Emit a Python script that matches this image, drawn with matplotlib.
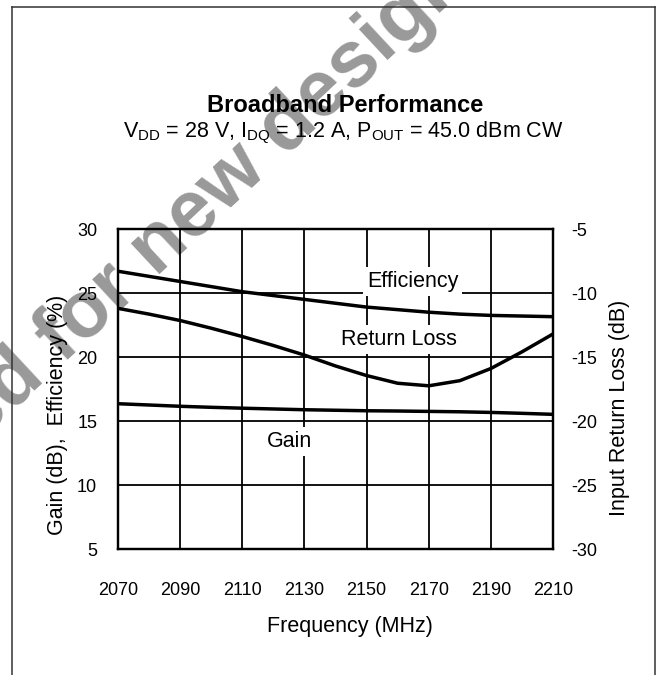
import matplotlib
matplotlib.use('Agg')
import matplotlib.pyplot as plt
from matplotlib.lines import Line2D

plt.rcParams['font.family'] = ['Liberation Sans', 'DejaVu Sans']
plt.rcParams['mathtext.fontset'] = 'custom'
plt.rcParams['mathtext.rm'] = 'Liberation Sans'
plt.rcParams['axes.unicode_minus'] = False

# data
freq = [2070, 2080, 2090, 2100, 2110, 2120, 2130, 2140, 2150, 2160, 2170, 2180, 2190, 2200, 2210]
efficiency = [26.7, 26.3, 25.9, 25.5, 25.1, 24.8, 24.5, 24.2, 23.9, 23.7, 23.5, 23.35, 23.25, 23.2, 23.15]
gain = [16.35, 16.25, 16.15, 16.07, 16.0, 15.94, 15.88, 15.84, 15.8, 15.78, 15.75, 15.72, 15.67, 15.6, 15.52]
return_loss = [-11.2, -11.65, -12.15, -12.75, -13.4, -14.1, -14.85, -15.7, -16.45, -17.05, -17.25, -16.85, -15.9, -14.6, -13.2]

xticks = [2070, 2090, 2110, 2130, 2150, 2170, 2190, 2210]
left_ticks = [5, 10, 15, 20, 25, 30]
right_ticks = [-30, -25, -20, -15, -10, -5]

W, H = 666, 675
fig = plt.figure(figsize=(W / 100, H / 100), dpi=100)

def fx(px):
    return px / W

def fy(py):
    return 1 - py / H

# watermark behind everything
fig.text(fx(21), fy(403), 'Not recommended for new designs', rotation=43,
         rotation_mode='anchor', ha='center', va='baseline', fontsize=57,
         fontweight='bold', color='#999999', zorder=-5)

ax = fig.add_axes([fx(118), fy(549), 435 / W, 320 / H])
ax.set_facecolor('none')
ax2 = ax.twinx()
ax2.set_facecolor('none')

ax.plot(freq, efficiency, color='black', lw=2.5, zorder=3)
ax.plot(freq, gain, color='black', lw=2.5, zorder=3)
ax2.plot(freq, return_loss, color='black', lw=2.5, zorder=3)

ax.set_xlim(2070, 2210)
ax.set_ylim(5, 30)
ax2.set_ylim(-30, -5)
ax.set_xticks(xticks)
ax.set_yticks(left_ticks)
ax2.set_yticks(right_ticks)

ax.grid(True, color='black', lw=1.3)
for a in (ax, ax2):
    for s in a.spines.values():
        s.set_linewidth(1.6)
ax.tick_params(axis='both', length=0, labelsize=13)
ax.tick_params(axis='y', pad=15)
ax.tick_params(axis='x', pad=24)
ax2.tick_params(axis='y', length=0, labelsize=13, pad=13)

fig.text(fx(349.5), fy(632), 'Frequency (MHz)', ha='center', va='baseline', fontsize=15.5)
fig.text(fx(57), fy(415), 'Gain (dB),  Efficiency (%)', ha='center', va='center',
         rotation=90, fontsize=15.5)
fig.text(fx(620), fy(408), 'Input Return Loss (dB)', ha='center', va='center',
         rotation=90, fontsize=15.5)

box = dict(facecolor='white', edgecolor='none', pad=3)
ax.text(2164.8, 25.47, 'Efficiency', ha='center', va='baseline', fontsize=15.5, bbox=box, zorder=4)
ax.text(2160.4, 20.94, 'Return Loss', ha='center', va='baseline', fontsize=15.5, bbox=box, zorder=4)
ax.text(2125.2, 12.99, 'Gain', ha='center', va='baseline', fontsize=15.5, bbox=box, zorder=4)

fig.text(fx(345), fy(112), 'Broadband Performance', ha='center', va='baseline',
         fontsize=17, fontweight='bold')
fig.text(fx(343), fy(137),
         r'V$_\mathrm{DD}$ = 28 V, I$_\mathrm{DQ}$ = 1.2 A, P$_\mathrm{OUT}$ = 45.0 dBm CW',
         ha='center', va='baseline', fontsize=15.5)

# outer frame of the datasheet figure
x0, x1, y1 = fx(12), fx(655), fy(7)
for xs, ys in [([x0, x0], [0, y1]), ([x1, x1], [0, y1]), ([x0, x1], [y1, y1])]:
    fig.add_artist(Line2D(xs, ys, color='#333333', lw=1.1))

fig.savefig('out.png', dpi=100)
